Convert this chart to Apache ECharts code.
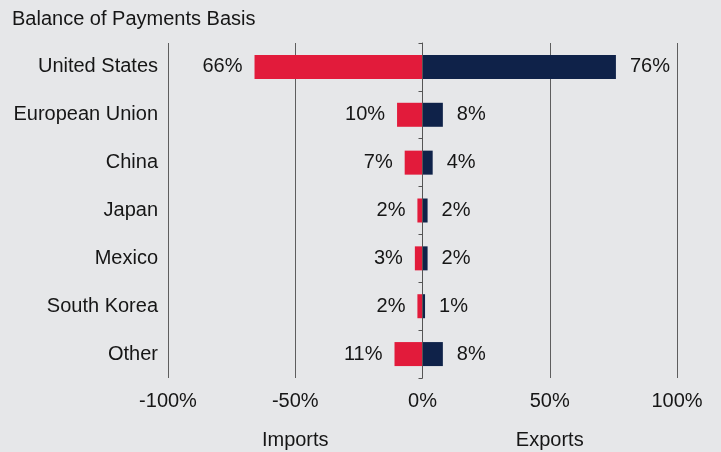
<!DOCTYPE html>
<html>
<head>
<meta charset="utf-8">
<script src="https://cdn.jsdelivr.net/npm/echarts@6/dist/echarts.min.js"></script>
<style>
  html, body { margin: 0; padding: 0; background: #e6e7e9; }
  #chart { width: 721px; height: 452px; }
</style>
</head>
<body>
<div id="chart"></div>
<script>
// 国家/地区
const categories = ['United States', 'European Union', 'China', 'Japan', 'Mexico', 'South Korea', 'Other']
// 进口 (负方向)
const imports = [-66, -10, -7, -2, -3, -2, -11]
// 出口
const exports = [76, 8, 4, 2, 2, 1, 8]
const ticks = [-100, -50, 0, 50, 100]

const font = '"Liberation Sans", Arial, sans-serif'
const textColor = '#161616'

const myChart = echarts.init(document.getElementById('chart'))

const option = {
  backgroundColor: '#e6e7e9',
  animation: false,
  title: {
    text: 'Balance of Payments Basis',
    left: 7,
    top: 4,
    textStyle: { fontFamily: font, fontSize: 20, fontWeight: 'normal', color: textColor }
  },
  grid: { left: 168, right: 44, top: 43, bottom: 74 },
  xAxis: {
    type: 'value',
    min: ticks[0],
    max: ticks[ticks.length - 1],
    interval: 50,
    axisLine: { show: false },
    axisTick: { show: false },
    splitLine: { show: true, lineStyle: { color: '#5e5e5e', width: 1 } },
    axisLabel: {
      margin: 13,
      fontFamily: font,
      fontSize: 20,
      color: textColor,
      formatter: v => v + '%'
    }
  },
  yAxis: [
    {
      // 左侧类目标签
      type: 'category',
      data: categories,
      inverse: true,
      axisLine: { show: false, onZero: false },
      axisTick: { show: false },
      axisLabel: { margin: 10, fontFamily: font, fontSize: 20, color: textColor }
    },
    {
      // 0 处的竖线和刻度
      type: 'category',
      data: categories,
      inverse: true,
      position: 'left',
      z: 5,
      axisLine: { show: true, onZero: true, lineStyle: { color: '#555', width: 1 } },
      axisTick: { show: true, length: 4, lineStyle: { color: '#555' } },
      axisLabel: { show: false }
    }
  ],
  series: [
    {
      name: 'Imports',
      type: 'bar',
      data: imports,
      barWidth: 24,
      barGap: '-100%',
      itemStyle: { color: '#e21b3b' },
      label: {
        show: true,
        position: 'left',
        distance: 12,
        fontFamily: font,
        fontSize: 20,
        color: textColor,
        formatter: p => Math.abs(p.value) + '%'
      }
    },
    {
      name: 'Exports',
      type: 'bar',
      data: exports,
      barWidth: 24,
      barGap: '-100%',
      itemStyle: { color: '#0f2249' },
      label: {
        show: true,
        position: 'right',
        distance: 14,
        fontFamily: font,
        fontSize: 20,
        color: textColor,
        formatter: p => p.value + '%'
      }
    }
  ]
}

myChart.setOption(option)

// Imports / Exports 标题放在 -50% 和 50% 下方
const xImp = myChart.convertToPixel({ xAxisIndex: 0 }, -50)
const xExp = myChart.convertToPixel({ xAxisIndex: 0 }, 50)
myChart.setOption({
  graphic: [
    {
      type: 'text', x: xImp, y: 440,
      style: { text: 'Imports', font: '20px ' + font, fill: textColor, align: 'center', verticalAlign: 'middle' }
    },
    {
      type: 'text', x: xExp, y: 440,
      style: { text: 'Exports', font: '20px ' + font, fill: textColor, align: 'center', verticalAlign: 'middle' }
    }
  ]
})
</script>
</body>
</html>
